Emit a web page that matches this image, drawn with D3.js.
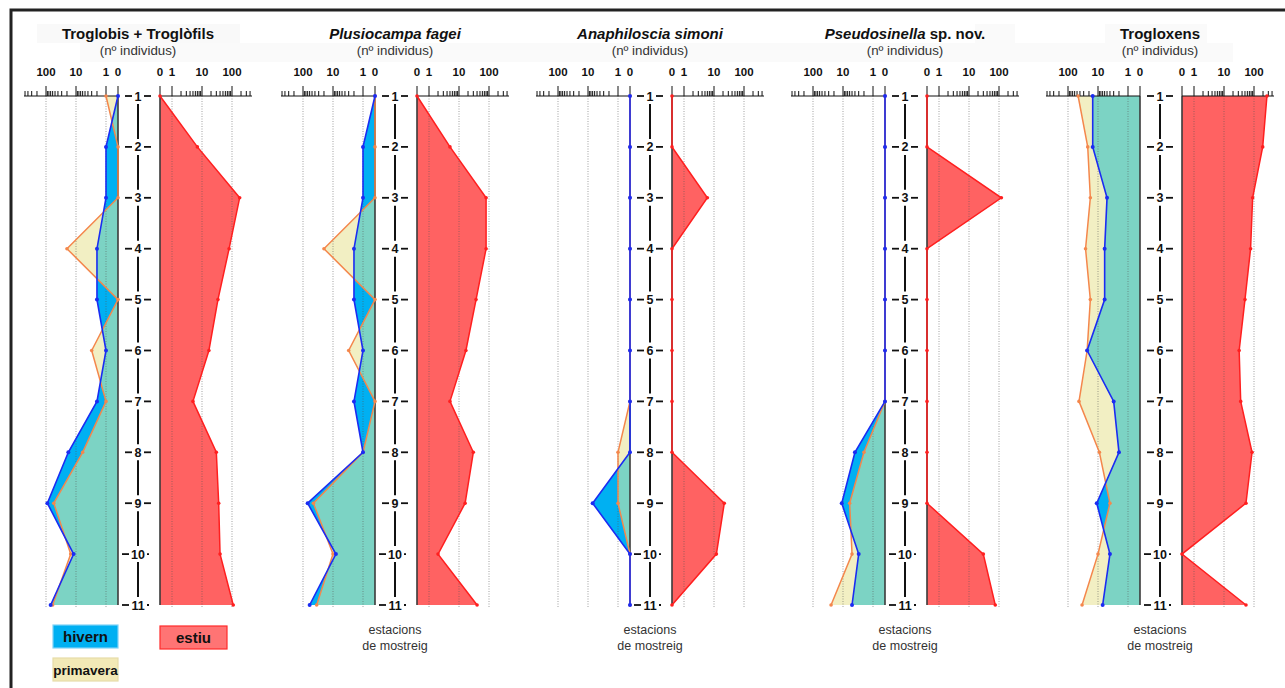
<!DOCTYPE html>
<html><head><meta charset="utf-8">
<script src="https://cdn.jsdelivr.net/npm/d3@7"></script>
<style>
body{margin:0;background:#fff}
svg{display:block}
text{font-family:"Liberation Sans",Arial,Helvetica,sans-serif}
</style>
</head><body>
<svg id="chart" width="1285" height="688"></svg>
<script>
// ---------- DATA ----------
const stations = [1,2,3,4,5,6,7,8,9,10,11];
const tickValues = [0,1,10,100];
const tickLabels = ["0","1","10","100"];
const gridValues = [1,10,100];

const trogHivern    = [0,1,1,2,2,1,2,18,90,12,70];
const trogPrimavera = [1,0,0,20,0,3,1,6,55,15,60];
const trogEstiu     = [0,7,180,80,34,17,5,30,36,40,110];

const plusHivern    = [0,1,1,2,2,1,2,1,70,8,60];
const plusPrimavera = [0,0,0,20,0,3,0,1,45,10,35];
const plusEstiu     = [0,5,80,80,37,17,5,30,16,2,40];

const anaHivern     = [0,0,0,0,0,0,0,0,7,0,0];
const anaPrimavera  = [0,0,0,0,0,0,0,1,1,0,0];
const anaEstiu      = [0,0,6,0,0,0,0,0,22,12,0];

const pseuHivern    = [0,0,0,0,0,0,0,4,11,3,5];
const pseuPrimavera = [0,0,0,0,0,0,0,2,6,5,25];
const pseuEstiu     = [0,0,120,0,0,0,0,0,0,30,75];

const troxHivern    = [15,15,5,6,6,23,3,2,11,4,7];
const troxPrimavera = [46,22,18,26,18,23,43,9,4,10,34];
const troxEstiu     = [270,195,90,77,50,32,36,86,54,0,54];

const titles = [
  [["Troglobis + Troglòfils","normal"]],
  [["Plusiocampa fagei","italic"]],
  [["Anaphiloscia simoni","italic"]],
  [["Pseudosinella","italic"],[" sp. nov.","normal"]],
  [["Trogloxens","normal"]]
];
const subtitle = "(nº individus)";
const stationCaption = ["estacions","de mostreig"];
const legendLabels = ["hivern","primavera","estiu"];

// ---------- LAYOUT / STYLE ----------
const W = 1285, H = 688;
const panelZero = [118, 375, 630, 885, 1140];   // x of left-axis zero per panel
const yTop = 96, yBot = 605;
const C = {
  blue:"#00b0f2", blueLine:"#1b2cf2",
  yellow:"#f2efc3", orangeLine:"#f4874c",
  teal:"#7cd3c4",
  red:"#ff6262", redLine:"#ff1f1f"
};

const svg = d3.select("#chart");
svg.append("rect").attr("width",W).attr("height",H).attr("fill","#fff");

// faint title bands
svg.append("rect").attr("x",80).attr("y",43).attr("width",1153).attr("height",19).attr("fill","#fafafa");
svg.append("rect").attr("x",37).attr("y",24).attr("width",203).attr("height",19).attr("fill","#f9f9f9");
svg.append("rect").attr("x",975).attr("y",24).attr("width",40).attr("height",19).attr("fill","#fafafa");
svg.append("rect").attr("x",1105).attr("y",24).attr("width",102).attr("height",19).attr("fill","#fafafa");

// frame
svg.append("path").attr("d",`M${W},10 H11 V${H}`).attr("fill","none").attr("stroke","#222").attr("stroke-width",3);

const y = d3.scalePoint().domain(stations).range([yTop,yBot]);

const panelsData = [
  [trogHivern,trogPrimavera,trogEstiu],
  [plusHivern,plusPrimavera,plusEstiu],
  [anaHivern,anaPrimavera,anaEstiu],
  [pseuHivern,pseuPrimavera,pseuEstiu],
  [troxHivern,troxPrimavera,troxEstiu]
];

panelsData.forEach((pd,pi)=>{
  const x0 = panelZero[pi];
  const cx = x0 + 20;
  const r0 = x0 + 42;
  const g = svg.append("g");

  const sL = d3.scaleLog().domain([1,10]).range([x0-12, x0-42]);
  const sR = d3.scaleLog().domain([1,10]).range([r0+12, r0+42]);
  const xL = v => v>0 ? sL(v) : x0;
  const xR = v => v>0 ? sR(v) : r0;

  const [hiv, pri, est] = pd;
  const dH = stations.map((s,i)=>({s, v:hiv[i]}));
  const dP = stations.map((s,i)=>({s, v:pri[i]}));
  const dE = stations.map((s,i)=>({s, v:est[i]}));

  const areaL = d3.area().y(d=>y(d.s)).x0(x0).x1(d=>xL(d.v));
  const areaR = d3.area().y(d=>y(d.s)).x0(r0).x1(d=>xR(d.v));
  const lineL = d3.line().y(d=>y(d.s)).x(d=>xL(d.v));
  const lineR = d3.line().y(d=>y(d.s)).x(d=>xR(d.v));

  svg.append("defs").append("clipPath").attr("id","clipP"+pi)
    .append("path").attr("d",areaL(dP));

  // fills
  g.append("path").attr("d",areaL(dP)).attr("fill",C.yellow);
  g.append("path").attr("d",areaL(dH)).attr("fill",C.blue);
  g.append("path").attr("d",areaL(dH)).attr("fill",C.teal).attr("clip-path",`url(#clipP${pi})`);
  g.append("path").attr("d",areaR(dE)).attr("fill",C.red);

  // grid lines
  gridValues.forEach(v=>{
    [xL(v), xR(v)].forEach(xx=>{
      g.append("line").attr("x1",xx).attr("x2",xx).attr("y1",yTop).attr("y2",yBot+2)
        .attr("stroke","#555").attr("stroke-opacity",0.55).attr("stroke-width",1)
        .attr("stroke-dasharray","1,1.5");
    });
  });

  // baselines
  g.append("line").attr("x1",x0).attr("x2",x0).attr("y1",yTop).attr("y2",yBot)
    .attr("stroke","#3a3a3a").attr("stroke-width",1.6);
  g.append("line").attr("x1",r0).attr("x2",r0).attr("y1",yTop).attr("y2",yBot)
    .attr("stroke","#3a3a3a").attr("stroke-width",1.6);

  // axes (top)
  const leftEnd = x0-94, rightEnd = r0+92;
  const axL = g.append("g"), axR = g.append("g");
  axL.append("line").attr("x1",leftEnd).attr("x2",x0).attr("y1",yTop).attr("y2",yTop).attr("stroke","#111").attr("stroke-width",1);
  axR.append("line").attr("x1",r0).attr("x2",rightEnd).attr("y1",yTop).attr("y2",yTop).attr("stroke","#111").attr("stroke-width",1);
  const minorL = sL.copy().domain([1, sL.invert(leftEnd+1)]).ticks();
  const minorR = sR.copy().domain([1, sR.invert(rightEnd-1)]).ticks();
  minorL.forEach(v=>{
    const major = tickValues.includes(v);
    axL.append("line").attr("x1",xL(v)).attr("x2",xL(v)).attr("y1",yTop).attr("y2",yTop-(major?10:5)).attr("stroke","#111").attr("stroke-width",1);
  });
  minorR.forEach(v=>{
    const major = tickValues.includes(v);
    axR.append("line").attr("x1",xR(v)).attr("x2",xR(v)).attr("y1",yTop).attr("y2",yTop-(major?10:5)).attr("stroke","#111").attr("stroke-width",1);
  });
  [[axL,x0],[axR,r0]].forEach(([a,xx])=>{
    a.append("line").attr("x1",xx).attr("x2",xx).attr("y1",yTop).attr("y2",yTop-10).attr("stroke","#111").attr("stroke-width",1);
  });
  tickValues.forEach((v,i)=>{
    g.append("text").attr("x",xL(v)).attr("y",76).attr("text-anchor","middle")
      .attr("font-size","11.5px").attr("font-weight","bold").attr("fill","#111").text(tickLabels[i]);
    g.append("text").attr("x",xR(v)).attr("y",76).attr("text-anchor","middle")
      .attr("font-size","11.5px").attr("font-weight","bold").attr("fill","#111").text(tickLabels[i]);
  });

  // lines and points
  g.append("path").attr("d",lineL(dP)).attr("fill","none").attr("stroke",C.orangeLine).attr("stroke-width",1.5);
  g.selectAll(null).data(dP).join("circle").attr("cx",d=>xL(d.v)).attr("cy",d=>y(d.s)).attr("r",1.8).attr("fill",C.orangeLine);
  g.append("path").attr("d",lineL(dH)).attr("fill","none").attr("stroke",C.blueLine).attr("stroke-width",1.6);
  g.selectAll(null).data(dH).join("circle").attr("cx",d=>xL(d.v)).attr("cy",d=>y(d.s)).attr("r",2).attr("fill",C.blueLine);
  g.append("path").attr("d",lineR(dE)).attr("fill","none").attr("stroke",C.redLine).attr("stroke-width",1.5);
  g.selectAll(null).data(dE).join("circle").attr("cx",d=>xR(d.v)).attr("cy",d=>y(d.s)).attr("r",1.8).attr("fill",C.redLine);

  // station axis
  stations.forEach((s,i)=>{
    const yy = y(s);
    const hw = s>=10 ? 8 : 5;
    g.append("text").attr("x",cx).attr("y",yy+4.5).attr("text-anchor","middle")
      .attr("font-size","12.5px").attr("font-weight","bold").attr("fill","#111").text(s);
    g.append("line").attr("x1",cx-hw-8).attr("x2",cx-hw-1).attr("y1",yy).attr("y2",yy).attr("stroke","#111").attr("stroke-width",1.8);
    g.append("line").attr("x1",cx+hw+1).attr("x2",cx+hw+(s>=10?3:8)).attr("y1",yy).attr("y2",yy).attr("stroke","#111").attr("stroke-width",1.8);
    if(i<stations.length-1){
      g.append("line").attr("x1",cx).attr("x2",cx).attr("y1",yy+8).attr("y2",y(stations[i+1])-8)
        .attr("stroke","#111").attr("stroke-width",2);
    }
  });

  // titles
  const t = g.append("text").attr("x",cx).attr("y",39).attr("text-anchor","middle")
    .attr("font-size","15px").attr("font-weight","bold").attr("fill","#111");
  titles[pi].forEach(([txt,st])=>t.append("tspan").attr("font-style",st).text(txt));
  g.append("text").attr("x",cx).attr("y",55).attr("text-anchor","middle")
    .attr("font-size","13.3px").attr("fill","#333").text(subtitle);

  if(pi>0){
    stationCaption.forEach((c,k)=>{
      g.append("text").attr("x",cx).attr("y",634+k*16).attr("text-anchor","middle")
        .attr("font-size","12.5px").attr("fill","#333").text(c);
    });
  }
});

// legend
const leg = svg.append("g");
const legItems = [
  {label:legendLabels[0], x:53, y:625, w:65, h:23, fill:C.blue, stroke:"#7fd3f7", fs:15},
  {label:legendLabels[1], x:53, y:658, w:65, h:23, fill:"#f2e9b6", stroke:"#e6dda8", fs:13.5},
  {label:legendLabels[2], x:160, y:626, w:67, h:23, fill:"#ff7474", stroke:"#ff2a2a", fs:15}
];
legItems.forEach(it=>{
  leg.append("rect").attr("x",it.x).attr("y",it.y).attr("width",it.w).attr("height",it.h)
    .attr("fill",it.fill).attr("stroke",it.stroke).attr("stroke-width",1.2);
  leg.append("text").attr("x",it.x+it.w/2).attr("y",it.y+it.h/2+5).attr("text-anchor","middle")
    .attr("font-size",it.fs+"px").attr("font-weight","bold").attr("fill","#111").text(it.label);
});
</script>
</body></html>
